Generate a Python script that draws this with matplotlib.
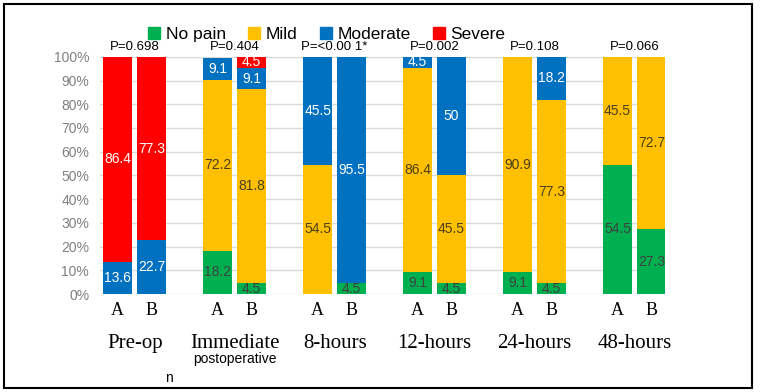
import matplotlib.pyplot as plt
import numpy as np
from matplotlib.patches import Patch, Rectangle

groups = ["Pre-op", "Immediate", "8-hours", "12-hours", "24-hours", "48-hours"]
pvals = ["P=0.698", "P=0.404", "P=<0.00 1*", "P=0.002", "P=0.108", "P=0.066"]
levels = ["No pain", "Mild", "Moderate", "Severe"]
colors = ["#00B050", "#FFC000", "#0070C0", "#FF0000"]
txt_colors = ["#404040", "#4a4020", "white", "white"]

# percentages per group, [A, B]
no_pain = [[0, 0], [18.2, 4.5], [0, 4.5], [9.1, 4.5], [9.1, 4.5], [54.5, 27.3]]
mild = [[0, 0], [72.2, 81.8], [54.5, 0], [86.4, 45.5], [90.9, 77.3], [45.5, 72.7]]
moderate = [[13.6, 22.7], [9.1, 9.1], [45.5, 95.5], [4.5, 50], [0, 18.2], [0, 0]]
severe = [[86.4, 77.3], [0, 4.5], [0, 0], [0, 0], [0, 0], [0, 0]]

data = np.array([no_pain, mild, moderate, severe])  # level, group, arm

plt.rcParams['font.family'] = ['Liberation Sans', 'DejaVu Sans']
fig = plt.figure(figsize=(7.6, 3.92), dpi=100)
ax = fig.add_axes([0.132, 0.25, 0.743, 0.605])

x = np.arange(len(groups))
off = 0.17
w = 0.29
for arm, sgn in enumerate([-1, 1]):
    bottom = np.zeros(len(groups))
    for lv in range(4):
        vals = data[lv, :, arm]
        ax.bar(x + sgn * off, vals, w, bottom=bottom, color=colors[lv], zorder=2)
        for i, v in enumerate(vals):
            if v > 0:
                ax.text(x[i] + sgn * off, bottom[i] + v / 2, f"{v:g}", ha='center', va='center',
                        fontsize=10, color=txt_colors[lv], zorder=3)
        bottom += vals
    for i in x:
        ax.text(i + sgn * off, -3.5, "AB"[arm], ha='center', va='top', fontsize=13,
                family='Liberation Serif')

for i, g in enumerate(groups):
    ax.text(i, -17, g, ha='center', va='top', fontsize=15, family='Liberation Serif')
    ax.text(i, 101.5, pvals[i], ha='center', va='bottom', fontsize=9.5)
ax.text(1, -24.5, "postoperative", ha='center', va='top', fontsize=10)

ax.set_xlim(-0.345, 5.305)
ax.set_ylim(0, 100)
ax.set_yticks(np.arange(0, 101, 10))
ax.set_yticklabels([f"{t}%" for t in range(0, 101, 10)], color='#808080', fontsize=10)
ax.set_xticks([])
ax.tick_params(axis='y', length=0, pad=8)
ax.grid(axis='y', color='#d9d9d9', lw=1, zorder=0)
for s in ax.spines.values():
    s.set_visible(False)

handles = [Patch(color=c) for c in colors]
fig.legend(handles, levels, loc='center', bbox_to_anchor=(0.43, 0.913), ncol=4, frameon=False,
           fontsize=12.5, handlelength=0.7, handleheight=0.7, handletextpad=0.3, columnspacing=1.3)

fig.text(165 / 760, 1 - 378 / 392, "n", fontsize=10, va='center')
fig.patches.append(Rectangle((4 / 760, 4 / 392), 748 / 760, 384 / 392, transform=fig.transFigure,
                             fill=False, edgecolor='black', lw=1.5))

fig.savefig("out.png", dpi=100)
